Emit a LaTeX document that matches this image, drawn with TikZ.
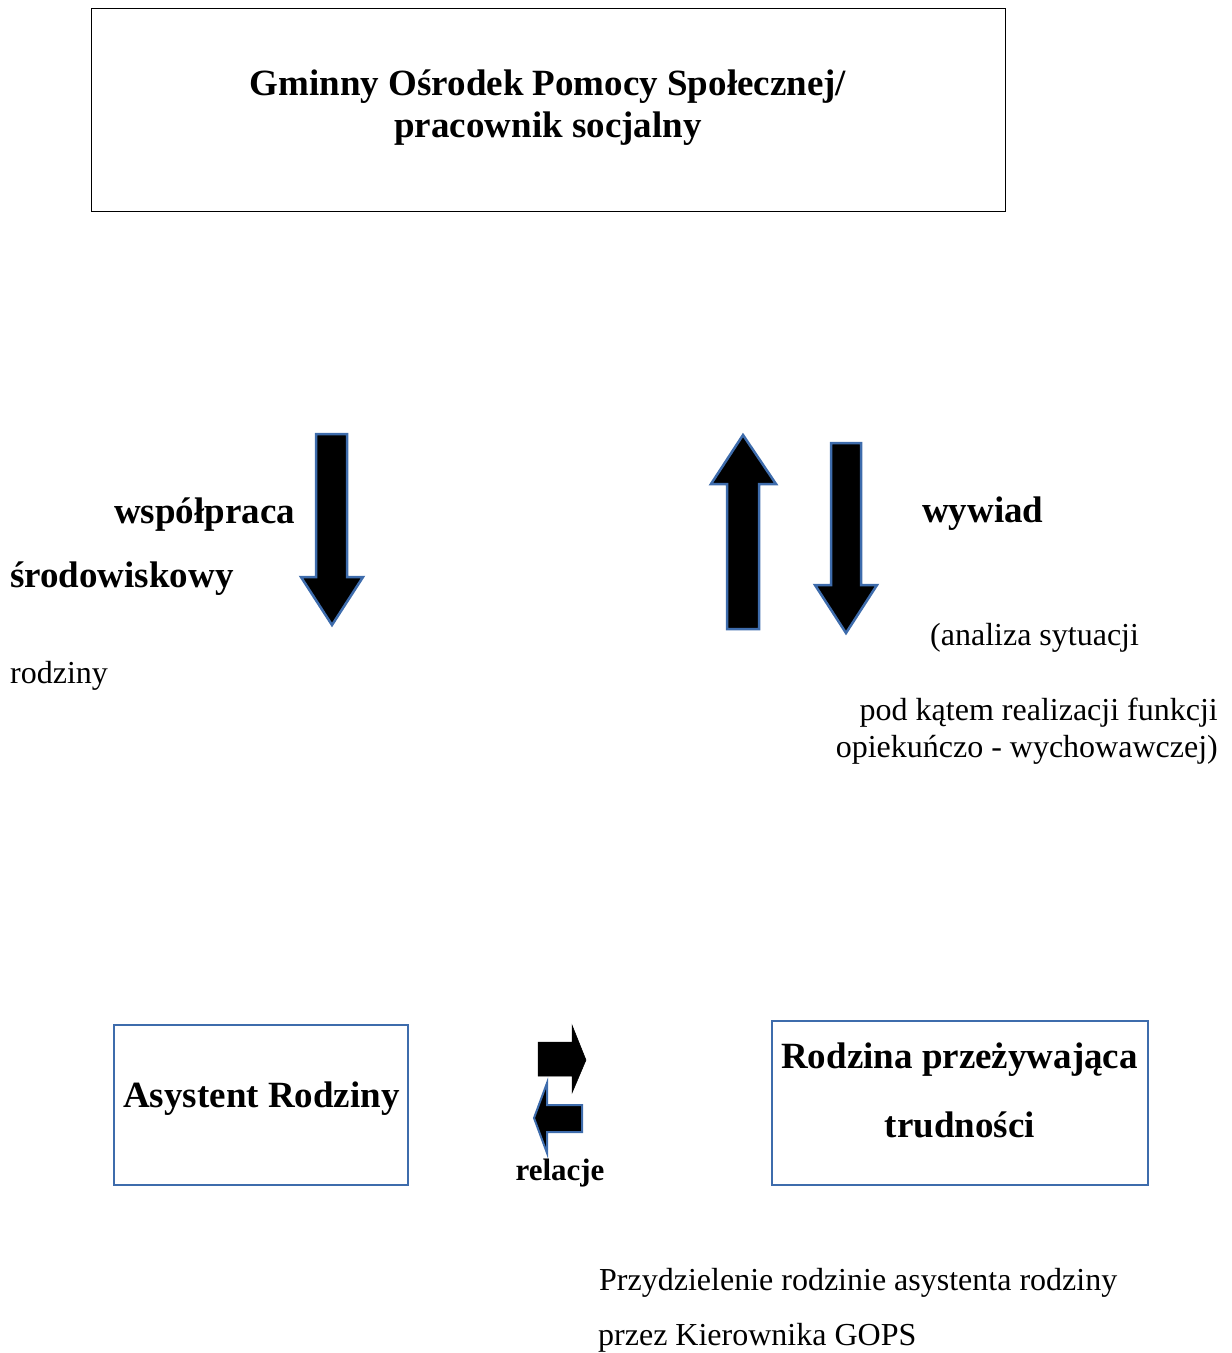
\documentclass[tikz,border=0pt]{standalone}
\usepackage{fontspec}
\setmainfont{Liberation Serif}
\definecolor{arrowblue}{RGB}{62,108,172}
\begin{document}
\begin{tikzpicture}[x=1pt,y=-1pt,
  boldlbl/.style={font=\fontsize{37}{42}\selectfont\bfseries, inner sep=0pt},
  reglbl/.style={font=\fontsize{32}{38}\selectfont, inner sep=0pt},
  bluebox/.style={draw=arrowblue, line width=2.5pt, fill=white, inner sep=0pt},
  blockarrow/.style={fill=black, draw=arrowblue, line width=2.5pt, line join=miter}
]
\useasboundingbox (0,0) rectangle (1232,1353);
% top box
\node (gops) [draw=black, line width=1pt, minimum width=914pt, minimum height=203pt, inner sep=0pt] at (548,109.5) {};
\node (gops1) [boldlbl, anchor=base] at (548,95) {Gminny Ośrodek Pomocy Społecznej/};
\node (gops2) [boldlbl, anchor=base] at (548,137) {pracownik socjalny};

% left down arrow
\path[blockarrow] (316,434) -- (347,434) -- (347,577) -- (363,577) -- (332,625) -- (301,577) -- (316,577) -- cycle;
% up arrow
\path[blockarrow] (743,435) -- (776,484) -- (759,484) -- (759,629) -- (727,629) -- (727,484) -- (711,484) -- cycle;
% right down arrow
\path[blockarrow] (831,443) -- (861,443) -- (861,585) -- (877,585) -- (846,633) -- (815,585) -- (831,585) -- cycle;

% left labels
\node (wsp) [boldlbl, anchor=base west] at (114,523) {współpraca};
\node (srod) [boldlbl, anchor=base west] at (10,587) {środowiskowy};
\node (rodz) [reglbl, anchor=base west] at (10,683) {rodziny};

% right labels
\node (wyw) [boldlbl, anchor=base west] at (922,522) {wywiad};
\node (anal) [reglbl, anchor=base west] at (930,645) {(analiza sytuacji};
\node (pod) [reglbl, anchor=base east] at (1218,720) {pod kątem realizacji funkcji};
\node (opie) [reglbl, anchor=base east] at (1218,757) {opiekuńczo - wychowawczej)};

% bottom boxes
\node (asys) [bluebox, minimum width=294pt, minimum height=160pt] at (261,1105) {};
\node (asyst) [boldlbl, anchor=base] at (261.5,1107) {Asystent Rodziny};
\node (rodzbox) [bluebox, minimum width=376pt, minimum height=164pt] at (960,1103) {};
\node (rodz1) [boldlbl, anchor=base] at (959.5,1068) {Rodzina przeżywająca};
\node (rodz2) [boldlbl, anchor=base] at (960,1137) {trudności};

% small relation arrows
\path[fill=black, draw=black, line width=0.5pt] (538,1042) -- (572,1042) -- (572,1025) -- (586,1060) -- (572,1093) -- (572,1076) -- (538,1076) -- cycle;
\path[fill=black, draw=arrowblue, line width=2pt] (582,1105) -- (582,1132) -- (547,1132) -- (547,1153) -- (534,1118) -- (547,1083) -- (547,1105) -- cycle;
\node (rel) [font=\fontsize{31}{36}\selectfont\bfseries, inner sep=0pt, anchor=base] at (560,1180) {relacje};

% bottom text
\node (przyd) [reglbl, anchor=base west] at (599,1290) {Przydzielenie rodzinie asystenta rodziny};
\node (przez) [reglbl, anchor=base west] at (598,1345) {przez Kierownika GOPS};
\end{tikzpicture}
\end{document}
